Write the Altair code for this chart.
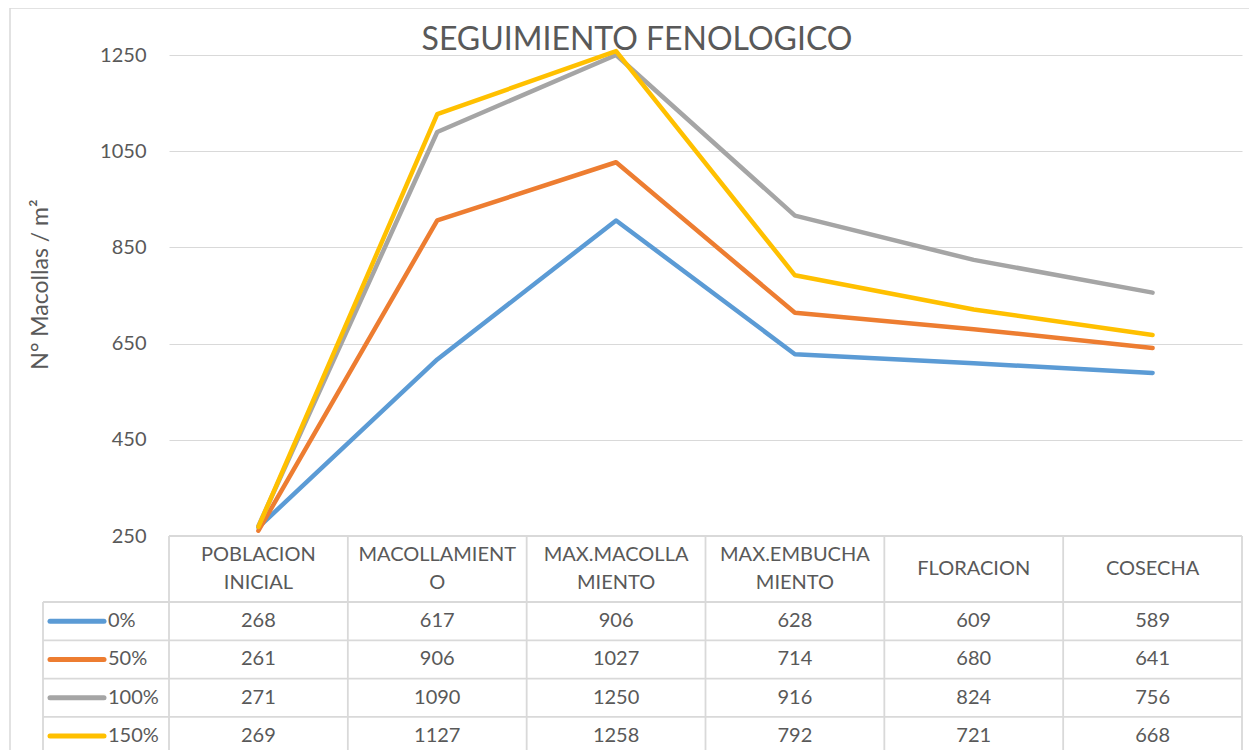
import altair as alt
import pandas as pd

# ---------------- data ----------------
CATEGORIES = ["POBLACION\nINICIAL", "MACOLLAMIENT\nO", "MAX.MACOLLA\nMIENTO",
              "MAX.EMBUCHA\nMIENTO", "FLORACION", "COSECHA"]
SERIES = ["0%", "50%", "100%", "150%"]
V0 = [268, 617, 906, 628, 609, 589]
V50 = [261, 906, 1027, 714, 680, 641]
V100 = [271, 1090, 1250, 916, 824, 756]
V150 = [269, 1127, 1258, 792, 721, 668]
VALUES = [V0, V50, V100, V150]
COLORS = ["#5B9BD5", "#ED7D31", "#A5A5A5", "#FFC000"]
Y_TICKS = [250, 450, 650, 850, 1050, 1250]
TITLE = "SEGUIMIENTO FENOLOGICO"
Y_TITLE = "N° Macollas / m²"

# ---------------- layout ----------------
W, H = 1073, 695          # plot area (page x 169..1242, y 55..750)
PLOT_H = 481              # line panel height (250 -> 1250)
STEP = W / 6
ROW = 38.3
HEAD = 66 / ROW           # header row height in row units
LINE_H = 28
LEG_LEFT = -126 / STEP
LEG_X1 = -119 / STEP
LEG_X2 = -65 / STEP
LEG_TXT = -61 / STEP
FONT = "Lato"
TXT = "#595959"
GRID = "#D9D9D9"
FS = 20

xscale = alt.Scale(domain=[0, 6], nice=False, zero=False)
yscale = alt.Scale(domain=[250, 1250], range=[PLOT_H, 0], nice=False, zero=False)
tscale = alt.Scale(domain=[0, 6], range=[PLOT_H, PLOT_H + 6 * ROW], nice=False, zero=False)

yaxis = alt.Axis(values=Y_TICKS, format="d", grid=True, gridColor=GRID, gridWidth=1.2,
                 domain=False, ticks=False, tickSize=0, labelPadding=23,
                 labelFont=FONT, labelFontSize=FS, labelColor=TXT,
                 title=Y_TITLE, titleFont=FONT, titleFontSize=23,
                 titleFontWeight="normal", titleColor=TXT,
                 titleAngle=270, titleBaseline="middle",
                 titleX=-129, titleY=229)

# ---------------- lines ----------------
line_layers = []
for name, vals, col in zip(SERIES, VALUES, COLORS):
    df = pd.DataFrame({"pos": [i + 0.5 for i in range(len(vals))],
                       "value": vals, "series": name})
    line_layers.append(
        alt.Chart(df).mark_line(color=col, strokeWidth=4.5, strokeCap="round",
                                strokeJoin="round")
        .encode(x=alt.X("pos:Q", scale=xscale, axis=None),
                y=alt.Y("value:Q", scale=yscale, axis=yaxis))
    )
lines = alt.layer(*line_layers)

# ---------------- data table ----------------
rules = []
for j in range(7):
    rules.append({"x": j, "x2": j, "y": 0, "y2": 6})
rules.append({"x": LEG_LEFT, "x2": LEG_LEFT, "y": HEAD, "y2": 6})
rules.append({"x": 0, "x2": 6, "y": 0, "y2": 0})
for k in range(5):
    rules.append({"x": LEG_LEFT, "x2": 6, "y": HEAD + k, "y2": HEAD + k})
rules_df = pd.DataFrame(rules)

grid_rules = alt.Chart(rules_df).mark_rule(color=GRID, strokeWidth=1.8).encode(
    x=alt.X("x:Q", scale=xscale, axis=None), x2="x2:Q",
    y=alt.Y("y:Q", scale=tscale, axis=None), y2="y2:Q")

head_rows = [HEAD / 2 - (c.count("\n") * LINE_H / 2) / ROW for c in CATEGORIES]
head_df = pd.DataFrame({"pos": [i + 0.5 for i in range(6)],
                        "row": head_rows, "label": CATEGORIES})
head_text = alt.Chart(head_df).mark_text(
    lineBreak="\n", lineHeight=LINE_H, baseline="middle", align="center",
    font=FONT, fontSize=FS, color=TXT).encode(
    x=alt.X("pos:Q", scale=xscale, axis=None),
    y=alt.Y("row:Q", scale=tscale, axis=None), text="label:N")

cells = []
for i, (name, vals) in enumerate(zip(SERIES, VALUES)):
    for j, v in enumerate(vals):
        cells.append({"pos": j + 0.5, "row": HEAD + i + 0.5, "val": str(v)})
cell_df = pd.DataFrame(cells)
cell_text = alt.Chart(cell_df).mark_text(
    baseline="middle", align="center", font=FONT, fontSize=FS, color=TXT).encode(
    x=alt.X("pos:Q", scale=xscale, axis=None),
    y=alt.Y("row:Q", scale=tscale, axis=None), text="val:N")

leg_df = pd.DataFrame({"series": SERIES,
                       "row": [HEAD + i + 0.5 for i in range(len(SERIES))],
                       "x1": [LEG_X1] * 4, "x2": [LEG_X2] * 4, "xt": [LEG_TXT] * 4})
leg_lines = alt.Chart(leg_df).mark_rule(strokeWidth=5, strokeCap="round").encode(
    x=alt.X("x1:Q", scale=xscale, axis=None), x2="x2:Q",
    y=alt.Y("row:Q", scale=tscale, axis=None),
    color=alt.Color("series:N", scale=alt.Scale(domain=SERIES, range=COLORS), legend=None))
leg_text = alt.Chart(leg_df).mark_text(
    baseline="middle", align="left", font=FONT, fontSize=FS, color=TXT).encode(
    x=alt.X("xt:Q", scale=xscale, axis=None),
    y=alt.Y("row:Q", scale=tscale, axis=None), text="series:N")

# ---------------- title & frame ----------------
title_df = pd.DataFrame({"t": [TITLE]})
title = alt.Chart(title_df).mark_text(
    baseline="alphabetic", align="center", font=FONT, fontSize=32, color=TXT).encode(
    text="t:N", x=alt.value(468), y=alt.value(-5))

frame = alt.Chart(title_df).mark_rect(fillOpacity=0, stroke=GRID, strokeWidth=1.5).encode(
    x=alt.value(-159), x2=alt.value(1300), y=alt.value(-47), y2=alt.value(900))

table = alt.layer(frame, grid_rules, head_text, cell_text, leg_lines, leg_text, title)

chart = alt.layer(lines, table).resolve_scale(y="independent").properties(
    width=W, height=H,
    autosize=alt.AutoSizeParams(type="none"),
    padding={"left": 161, "top": 47, "right": 7, "bottom": 0},
    background="white",
).configure_view(stroke=None)

chart.save("out.html", embed_options={"renderer": "svg", "actions": False})
